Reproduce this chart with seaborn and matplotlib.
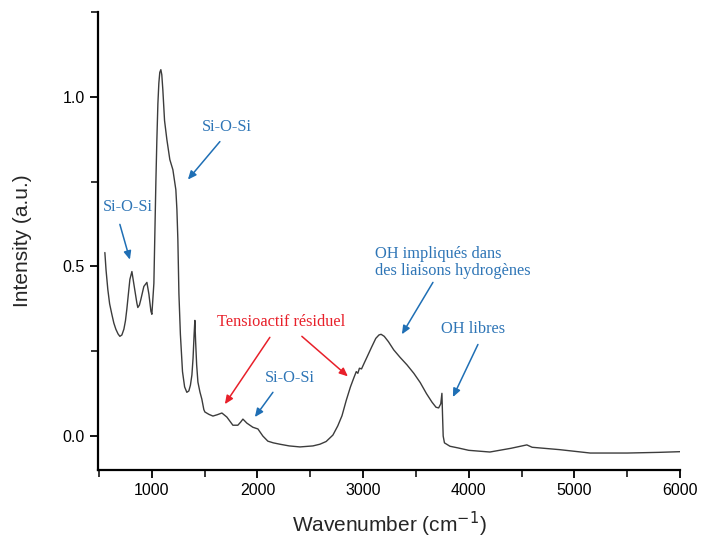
import matplotlib
matplotlib.use("Agg")
import matplotlib.pyplot as plt
import seaborn as sns
import pandas as pd
from matplotlib.ticker import MultipleLocator

# ---- data ----
wavenumber = [555, 566, 583, 600, 621, 640, 659, 680, 697, 716, 735, 750, 763, 778, 792,
              811, 830, 858, 867, 882, 896, 924, 953, 972, 991, 1000,
              1019, 1038, 1047, 1057, 1066, 1075, 1085, 1094, 1104, 1120, 1142, 1170, 1199, 1227,
              1237, 1246, 1256, 1270, 1290, 1310, 1331, 1350, 1365, 1379, 1390, 1400, 1407,
              1414, 1424, 1436, 1455, 1473, 1492, 1502, 1540, 1578, 1620, 1663, 1710,
              1767, 1814, 1840, 1862, 1900, 1956, 2004, 2051, 2098, 2150, 2212, 2300,
              2402, 2525, 2591, 2650, 2714, 2760, 2800, 2840, 2880, 2910, 2935, 2950,
              2965, 2985, 3010, 3040, 3080, 3120, 3150, 3170, 3200, 3240, 3290, 3350,
              3415, 3480, 3540, 3600, 3652, 3690, 3715, 3735, 3746, 3752, 3758, 3770,
              3822, 3900, 4000, 4200, 4400, 4550, 4600, 4860, 5150, 5500, 5800, 6000]
intensity = [0.541, 0.49, 0.432, 0.39, 0.359, 0.333, 0.315, 0.301, 0.294, 0.298, 0.315,
             0.34, 0.374, 0.42, 0.462, 0.485, 0.447, 0.392, 0.379, 0.386, 0.403, 0.441,
             0.453, 0.418, 0.368, 0.359,
             0.45, 0.75, 0.87, 0.98, 1.04, 1.072, 1.08, 1.065, 1.02, 0.93, 0.874, 0.815,
             0.785, 0.726, 0.668, 0.58, 0.42, 0.30, 0.19, 0.145, 0.129, 0.133, 0.15,
             0.18, 0.23, 0.30, 0.341, 0.28, 0.21, 0.159, 0.13, 0.109, 0.078, 0.071,
             0.064, 0.059, 0.063, 0.068, 0.056, 0.032, 0.032, 0.041, 0.05, 0.038,
             0.026, 0.021, 0.0, -0.015, -0.02, -0.024, -0.029, -0.032, -0.029, -0.024,
             -0.016, 0.003, 0.03, 0.06, 0.105, 0.145, 0.17, 0.19, 0.185, 0.2, 0.198,
             0.215, 0.235, 0.262, 0.288, 0.298, 0.300, 0.294, 0.278, 0.254, 0.232,
             0.210, 0.185, 0.158, 0.125, 0.100, 0.085, 0.083, 0.095, 0.126, 0.06, 0.0,
             -0.02, -0.03, -0.035, -0.042, -0.047, -0.036, -0.026, -0.033, -0.040,
             -0.050, -0.050, -0.048, -0.046]

x_ticks = [1000, 2000, 3000, 4000, 5000, 6000]
y_ticks = [0.0, 0.5, 1.0]

ann_texts = ["Si-O-Si", "Si-O-Si", "Tensioactif résiduel", "Si-O-Si",
             "OH impliqués dans\ndes liaisons hydrogènes", "OH libres"]
ann_text_pos = [(773, 0.674), (1710, 0.912), (2222, 0.335), (2307, 0.171),
                (3112, 0.512), (4040, 0.315)]
ann_ha = ["center", "center", "center", "center", "left", "center"]
ann_colors = ["#2e75b6", "#2e75b6", "#e8202a", "#2e75b6", "#2e75b6", "#2e75b6"]
arrows_tail = [(697, 0.624), (1644, 0.868), (2117, 0.291), (2420, 0.294),
               (2146, 0.129), (3661, 0.453), (4087, 0.27)]
arrows_head = [(792, 0.52), (1341, 0.756), (1691, 0.094), (2856, 0.176),
               (1975, 0.056), (3367, 0.30), (3850, 0.115)]
arrow_colors = ["#1f6fb5", "#1f6fb5", "#e8202a", "#e8202a", "#1f6fb5", "#1f6fb5", "#1f6fb5"]

df = pd.DataFrame({"wavenumber": wavenumber, "intensity": intensity})

sns.set_style("ticks")
plt.rcParams["font.family"] = ["Liberation Sans", "DejaVu Sans"]

fig = plt.figure(figsize=(7.02, 5.44), dpi=100)
ax = fig.add_axes([98 / 702, 74 / 544, (680 - 98) / 702, (470 - 12) / 544])

sns.lineplot(data=df, x="wavenumber", y="intensity", ax=ax, color="#3c3c3c",
             linewidth=1.0, sort=False)

ax.set_xlim(490, 6000)
ax.set_ylim(-0.1, 1.25)
ax.set_xticks(x_ticks)
ax.set_yticks(y_ticks)
ax.set_yticklabels([f"{v:.1f}" for v in y_ticks])
ax.xaxis.set_minor_locator(MultipleLocator(500))
ax.yaxis.set_minor_locator(MultipleLocator(0.25))
ax.tick_params(axis="both", which="major", direction="out", length=6, width=1.3,
               labelsize=11.5, colors="black")
ax.tick_params(axis="both", which="minor", direction="out", length=5, width=1.3)
for s in ["top", "right"]:
    ax.spines[s].set_visible(False)
for s in ["left", "bottom"]:
    ax.spines[s].set_linewidth(1.6)
    ax.spines[s].set_color("black")

ax.set_xlabel("Wavenumber (cm$^{-1}$)", fontsize=15, labelpad=8)
ax.set_ylabel("Intensity (a.u.)", fontsize=15, labelpad=22)

for t, (tx, ty), c, ha in zip(ann_texts, ann_text_pos, ann_colors, ann_ha):
    ax.text(tx, ty, t, color=c, fontsize=11.8, ha=ha, va="center",
            family=["Liberation Serif", "DejaVu Serif"], multialignment="left",
            linespacing=1.1)
for (x0, y0), (x1, y1), c in zip(arrows_tail, arrows_head, arrow_colors):
    ax.annotate("", xy=(x1, y1), xytext=(x0, y0),
                arrowprops=dict(arrowstyle="-|>,head_length=0.5,head_width=0.22",
                                color=c, lw=1.1, shrinkA=0, shrinkB=0))

fig.savefig("out.png", dpi=100)
